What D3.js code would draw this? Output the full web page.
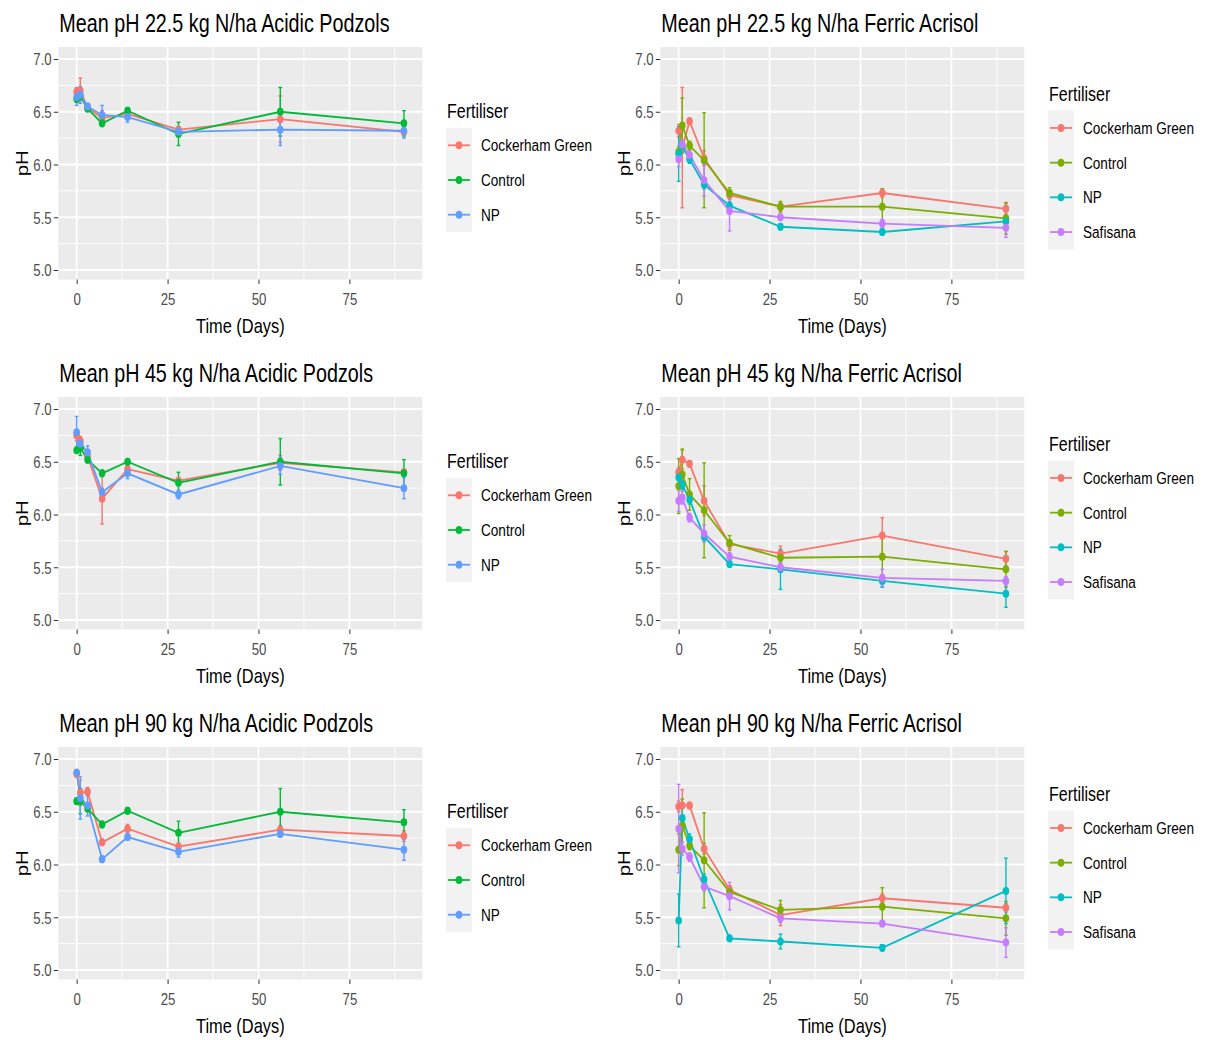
<!DOCTYPE html>
<html>
<head>
<meta charset="utf-8">
<script src="https://cdn.jsdelivr.net/npm/d3@7"></script>
<style>
  html, body { margin: 0; padding: 0; background: #ffffff; }
  svg { display: block; font-family: "Liberation Sans", Arial, sans-serif; }
</style>
</head>
<body>
<svg id="chart" width="1210" height="1040"></svg>
<script>
// Sampling days shared by every panel
const days = [0, 1, 3, 7, 14, 28, 56, 90];

// Fertiliser groups and their hue colours
const podzolFertilisers = ["Cockerham Green", "Control", "NP"];
const acrisolFertilisers = ["Cockerham Green", "Control", "NP", "Safisana"];
const podzolColours = ["#F8766D", "#00BA38", "#619CFF"];
const acrisolColours = ["#F8766D", "#7CAE00", "#00BFC4", "#C77CFF"];

// Axis ticks
const xTicks = [0, 25, 50, 75];
const xMinorTicks = [12.5, 37.5, 62.5, 87.5];
const yTicks = [5.0, 5.5, 6.0, 6.5, 7.0];
const yTickLabels = ["5.0", "5.5", "6.0", "6.5", "7.0"];
const yMinorTicks = [5.25, 5.75, 6.25, 6.75];

const panelTitles = [
  "Mean pH 22.5 kg N/ha Acidic Podzols",
  "Mean pH 22.5 kg N/ha Ferric Acrisol",
  "Mean pH 45 kg N/ha Acidic Podzols",
  "Mean pH 45 kg N/ha Ferric Acrisol",
  "Mean pH 90 kg N/ha Acidic Podzols",
  "Mean pH 90 kg N/ha Ferric Acrisol"
];

// Mean pH (rows follow the fertiliser order) and standard errors
const podzol22Mean = [
  [6.69, 6.70, 6.54, 6.44, 6.48, 6.33, 6.43, 6.31],
  [6.62, 6.65, 6.53, 6.39, 6.51, 6.29, 6.50, 6.39],
  [6.64, 6.66, 6.55, 6.47, 6.45, 6.31, 6.33, 6.32]
];
const podzol22Err = [
  [0.04, 0.12, 0.03, 0.07, 0.03, 0.03, 0.22, 0.03],
  [0.03, 0.04, 0.03, 0.03, 0.03, 0.11, 0.23, 0.12],
  [0.08, 0.08, 0.03, 0.09, 0.05, 0.03, 0.15, 0.07]
];
const acrisol22Mean = [
  [6.32, 6.16, 6.41, 6.06, 5.71, 5.60, 5.73, 5.58],
  [6.12, 6.37, 6.18, 6.04, 5.73, 5.60, 5.60, 5.49],
  [6.10, 6.17, 6.05, 5.81, 5.61, 5.41, 5.36, 5.46],
  [6.05, 6.19, 6.09, 5.85, 5.56, 5.50, 5.44, 5.40]
];
const acrisol22Err = [
  [0.06, 0.57, 0.03, 0.07, 0.04, 0.04, 0.04, 0.05],
  [0.05, 0.26, 0.04, 0.45, 0.05, 0.05, 0.17, 0.15],
  [0.26, 0.05, 0.04, 0.04, 0.04, 0.03, 0.03, 0.04],
  [0.07, 0.04, 0.04, 0.15, 0.19, 0.03, 0.04, 0.09]
];
const podzol45Mean = [
  [6.75, 6.70, 6.55, 6.15, 6.43, 6.32, 6.49, 6.40],
  [6.61, 6.63, 6.52, 6.39, 6.50, 6.30, 6.50, 6.39],
  [6.78, 6.67, 6.59, 6.21, 6.39, 6.19, 6.46, 6.25]
];
const podzol45Err = [
  [0.05, 0.04, 0.03, 0.24, 0.04, 0.03, 0.07, 0.03],
  [0.03, 0.07, 0.03, 0.03, 0.03, 0.10, 0.22, 0.13],
  [0.15, 0.05, 0.06, 0.04, 0.05, 0.04, 0.08, 0.10]
];
const acrisol45Mean = [
  [6.40, 6.52, 6.48, 6.13, 5.72, 5.63, 5.80, 5.58],
  [6.27, 6.38, 6.19, 6.04, 5.73, 5.59, 5.60, 5.48],
  [6.35, 6.28, 6.14, 5.79, 5.53, 5.48, 5.37, 5.25],
  [6.13, 6.16, 5.97, 5.82, 5.60, 5.50, 5.40, 5.37]
];
const acrisol45Err = [
  [0.04, 0.09, 0.03, 0.14, 0.04, 0.07, 0.17, 0.07],
  [0.26, 0.24, 0.15, 0.45, 0.07, 0.05, 0.20, 0.17],
  [0.08, 0.04, 0.04, 0.04, 0.03, 0.19, 0.06, 0.13],
  [0.10, 0.06, 0.04, 0.08, 0.04, 0.04, 0.08, 0.04]
];
const podzol90Mean = [
  [6.86, 6.68, 6.69, 6.21, 6.34, 6.17, 6.33, 6.27],
  [6.60, 6.60, 6.53, 6.38, 6.51, 6.30, 6.50, 6.40],
  [6.87, 6.63, 6.56, 6.05, 6.26, 6.12, 6.29, 6.14]
];
const podzol90Err = [
  [0.03, 0.12, 0.04, 0.03, 0.04, 0.03, 0.04, 0.05],
  [0.03, 0.12, 0.03, 0.03, 0.03, 0.11, 0.22, 0.12],
  [0.03, 0.20, 0.10, 0.03, 0.03, 0.05, 0.03, 0.10]
];
const acrisol90Mean = [
  [6.55, 6.56, 6.56, 6.15, 5.76, 5.52, 5.68, 5.59],
  [6.14, 6.37, 6.18, 6.04, 5.74, 5.57, 5.60, 5.49],
  [5.47, 6.44, 6.24, 5.86, 5.30, 5.27, 5.21, 5.75],
  [6.34, 6.15, 6.07, 5.79, 5.70, 5.49, 5.44, 5.26]
];
const acrisol90Err = [
  [0.05, 0.15, 0.03, 0.05, 0.04, 0.10, 0.04, 0.04],
  [0.15, 0.25, 0.04, 0.45, 0.05, 0.09, 0.18, 0.16],
  [0.25, 0.10, 0.05, 0.05, 0.03, 0.07, 0.03, 0.31],
  [0.42, 0.06, 0.04, 0.04, 0.13, 0.04, 0.03, 0.14]
];

const panels = [
  { title: panelTitles[0], mean: podzol22Mean, err: podzol22Err, names: podzolFertilisers, colours: podzolColours },
  { title: panelTitles[1], mean: acrisol22Mean, err: acrisol22Err, names: acrisolFertilisers, colours: acrisolColours },
  { title: panelTitles[2], mean: podzol45Mean, err: podzol45Err, names: podzolFertilisers, colours: podzolColours },
  { title: panelTitles[3], mean: acrisol45Mean, err: acrisol45Err, names: acrisolFertilisers, colours: acrisolColours },
  { title: panelTitles[4], mean: podzol90Mean, err: podzol90Err, names: podzolFertilisers, colours: podzolColours },
  { title: panelTitles[5], mean: acrisol90Mean, err: acrisol90Err, names: acrisolFertilisers, colours: acrisolColours }
];

// Text is drawn with a narrow horizontal scale
const SX = 0.8;
const svg = d3.select("#chart");
svg.append("rect").attr("width", 1210).attr("height", 1040).attr("fill", "#ffffff");

function label(g, x, y, str, size, opts = {}) {
  const rot = opts.rotate ? ` rotate(${opts.rotate})` : "";
  return g.append("text")
    .attr("transform", `translate(${x},${y}) scale(${opts.sx || SX},1)${rot}`)
    .attr("font-size", size)
    .attr("fill", opts.fill || "#000000")
    .attr("text-anchor", opts.anchor || "start")
    .attr("dy", opts.dy || 0)
    .text(str);
}

panels.forEach((p, i) => {
  const r = Math.floor(i / 2), c = i % 2;
  const ox = 602 * c, oy = 350 * r;
  const left = 58.3 + ox, right = 422.3 + ox, top = 47 + oy, bottom = 279.5 + oy;

  const x = d3.scaleLinear().domain([-5.05, 95.05]).range([left, right]);
  const y = d3.scaleLinear().domain([5, 7]).range([270 + oy, 59 + oy]);

  const g = svg.append("g");

  // panel background and grid
  g.append("rect").attr("x", left).attr("y", top)
    .attr("width", right - left).attr("height", bottom - top).attr("fill", "#EBEBEB");
  g.selectAll(null).data(xMinorTicks).join("line")
    .attr("x1", d => x(d)).attr("x2", d => x(d)).attr("y1", top).attr("y2", bottom)
    .attr("stroke", "#ffffff").attr("stroke-width", 0.9);
  g.selectAll(null).data(yMinorTicks).join("line")
    .attr("y1", d => y(d)).attr("y2", d => y(d)).attr("x1", left).attr("x2", right)
    .attr("stroke", "#ffffff").attr("stroke-width", 0.9);
  g.selectAll(null).data(xTicks).join("line")
    .attr("x1", d => x(d)).attr("x2", d => x(d)).attr("y1", top).attr("y2", bottom)
    .attr("stroke", "#ffffff").attr("stroke-width", 1.8);
  g.selectAll(null).data(yTicks).join("line")
    .attr("y1", d => y(d)).attr("y2", d => y(d)).attr("x1", left).attr("x2", right)
    .attr("stroke", "#ffffff").attr("stroke-width", 1.8);

  // axes
  const ax = g.append("g").attr("transform", `translate(0,${bottom})`)
    .call(d3.axisBottom(x).tickValues(xTicks).tickSize(4.5).tickFormat(d3.format("d")));
  ax.select(".domain").remove();
  ax.selectAll(".tick line").attr("stroke", "#333333").attr("stroke-width", 1);
  ax.selectAll(".tick text")
    .attr("y", 26).attr("dy", 0).attr("transform", `scale(${SX},1)`)
    .attr("font-size", 16.5).attr("fill", "#4D4D4D")
    .attr("font-family", "'Liberation Sans', Arial, sans-serif");

  const ay = g.append("g").attr("transform", `translate(${left},0)`)
    .call(d3.axisLeft(y).tickValues(yTicks).tickSize(4.5).tickFormat((d, k) => yTickLabels[k]));
  ay.select(".domain").remove();
  ay.selectAll(".tick line").attr("stroke", "#333333").attr("stroke-width", 1);
  ay.selectAll(".tick text")
    .attr("x", -6.6 / SX).attr("dy", "0.36em").attr("transform", `scale(${SX},1)`)
    .attr("font-size", 16.5).attr("fill", "#4D4D4D")
    .attr("font-family", "'Liberation Sans', Arial, sans-serif");

  // titles
  label(g, left + 1, 31.5 + oy, p.title, 25, { sx: 0.79 });
  label(g, (left + right) / 2, 333 + oy, "Time (Days)", 20.5, { anchor: "middle" });
  label(g, 28 + ox, (top + bottom) / 2, "pH", 20.5, { anchor: "middle", rotate: -90 });

  // series
  const series = p.names.map((name, j) => ({
    name, colour: p.colours[j],
    pts: days.map((d, k) => ({ day: d, mean: p.mean[j][k], err: p.err[j][k] }))
  }));
  const line = d3.line().x(d => x(d.day)).y(d => y(d.mean));

  g.selectAll(null).data(series).join("path")
    .attr("d", s => line(s.pts)).attr("fill", "none")
    .attr("stroke", s => s.colour).attr("stroke-width", 1.8);

  series.forEach(s => {
    const eb = g.append("g").attr("stroke", s.colour).attr("stroke-width", 1.4).attr("fill", "none");
    eb.selectAll(null).data(s.pts).join("line")
      .attr("x1", d => x(d.day)).attr("x2", d => x(d.day))
      .attr("y1", d => y(d.mean - d.err)).attr("y2", d => y(d.mean + d.err));
    eb.selectAll(null).data(s.pts).join("line")
      .attr("x1", d => x(d.day - 0.5)).attr("x2", d => x(d.day + 0.5))
      .attr("y1", d => y(d.mean + d.err)).attr("y2", d => y(d.mean + d.err));
    eb.selectAll(null).data(s.pts).join("line")
      .attr("x1", d => x(d.day - 0.5)).attr("x2", d => x(d.day + 0.5))
      .attr("y1", d => y(d.mean - d.err)).attr("y2", d => y(d.mean - d.err));
  });

  series.forEach(s => {
    g.selectAll(null).data(s.pts).join("ellipse")
      .attr("cx", d => x(d.day)).attr("cy", d => y(d.mean))
      .attr("rx", 3.3).attr("ry", 4).attr("fill", s.colour);
  });

  // legend
  const n = series.length;
  const keyH = 34.7;
  const blockH = 17 + 9 + n * keyH;
  const lTop = 167 + oy - blockH / 2;
  const lx = 446 + ox;
  label(g, lx + 1, lTop + 16, "Fertiliser", 20);
  const keysTop = lTop + 26;
  g.append("rect").attr("x", lx).attr("y", keysTop)
    .attr("width", 26).attr("height", n * keyH).attr("fill", "#F2F2F2");
  series.forEach((s, j) => {
    const cy = keysTop + keyH * (j + 0.5);
    g.append("line").attr("x1", lx + 2).attr("x2", lx + 24).attr("y1", cy).attr("y2", cy)
      .attr("stroke", s.colour).attr("stroke-width", 1.8);
    g.append("ellipse").attr("cx", lx + 13).attr("cy", cy).attr("rx", 3.3).attr("ry", 4)
      .attr("fill", s.colour);
    label(g, lx + 35, cy, s.name, 17, { dy: "0.36em" });
  });
});
</script>
</body>
</html>
